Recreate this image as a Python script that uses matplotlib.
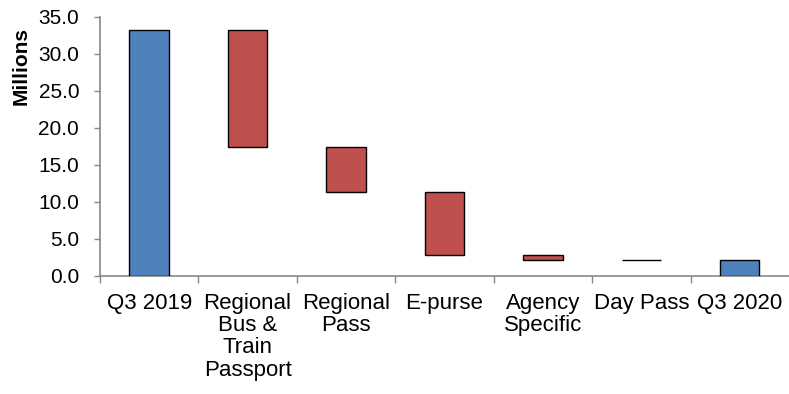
import matplotlib
matplotlib.use("Agg")
import matplotlib.pyplot as plt
import numpy as np

plt.rcParams['font.family'] = ['Liberation Sans', 'DejaVu Sans']

categories = ["Q3 2019", "Regional\nBus &\nTrain\nPassport", "Regional\nPass", "E-purse",
              "Agency\nSpecific", "Day Pass", "Q3 2020"]
start_total = 33.2
changes = [-15.8, -6.0, -8.6, -0.6, -0.1]
end_total = 2.1
y_ticks = [0, 5, 10, 15, 20, 25, 30, 35]

blue = "#4F81BD"
red = "#C0504D"

fig = plt.figure(figsize=(7.89, 3.94), dpi=100)
ax = fig.add_axes([0.1267, 0.2995, 0.8733, 0.6575])

x = np.arange(len(categories))
levels = start_total + np.concatenate([[0], np.cumsum(changes)])
bottoms = [0] + list(levels[1:]) + [0]
heights = [start_total] + list(-np.array(changes)) + [end_total]
colors = [blue] + [red] * len(changes) + [blue]

ax.bar(x, heights, bottom=bottoms, width=0.4, color=colors, edgecolor="black", linewidth=1.0, zorder=3)

ax.set_xlim(-0.5, len(categories) - 0.5)
ax.set_ylim(0, 35)
ax.set_yticks(y_ticks)
ax.set_yticklabels([f"{v:.1f}" for v in y_ticks], fontsize=15)
ax.set_xticks(x)
ax.set_xticklabels(categories, fontsize=16, linespacing=1.08, va="top")
ax.set_xticks(np.arange(len(categories)) - 0.5, minor=True)
ax.tick_params(axis="x", which="major", length=0, pad=12)
ax.tick_params(axis="x", which="minor", length=5, color="#888888", width=1, direction="out")
ax.tick_params(axis="y", length=4, color="#888888", width=1, direction="out", pad=11)

for s in ["top", "right"]:
    ax.spines[s].set_visible(False)
for s in ["left", "bottom"]:
    ax.spines[s].set_color("#888888")
    ax.spines[s].set_linewidth(1.2)

ax.set_ylabel("Millions", fontsize=15, fontweight="bold")
ax.yaxis.set_label_coords(-0.1, 0.81)

fig.savefig("out.png", dpi=100)
